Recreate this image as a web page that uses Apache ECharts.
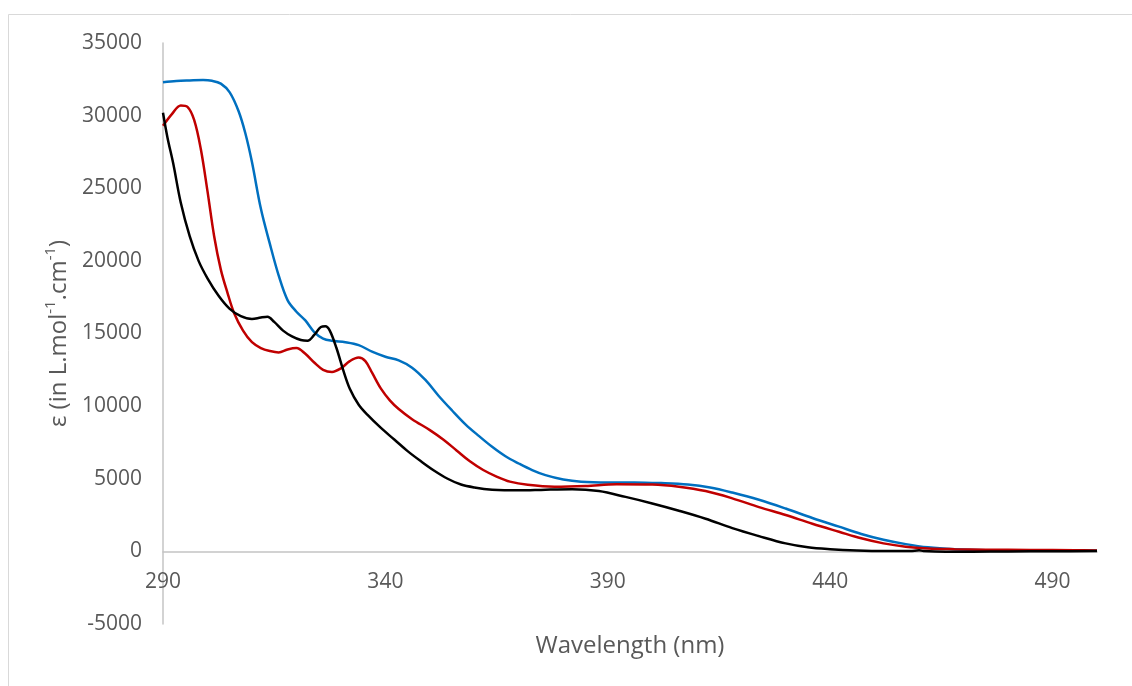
<!DOCTYPE html>
<html>
<head>
<meta charset="utf-8">
<script src="https://cdn.jsdelivr.net/npm/echarts@6/dist/echarts.min.js"></script>
<style>
  html, body { margin: 0; padding: 0; background: #ffffff; }
  #chart { width: 1132px; height: 686px; }
</style>
</head>
<body>
<div id="chart"></div>
<script>
// Absorption spectra: wavelength (nm) vs molar absorptivity ε
const blueNm = [290, 293, 296, 299, 301, 303, 305, 307, 308.5, 310, 312, 314, 316, 318, 320, 322, 324, 326, 328, 331, 334, 337, 340, 343, 346, 349, 352, 355, 358, 361, 364, 367, 370, 373, 376, 380, 384, 390, 396, 402, 408, 413, 418, 424, 430, 436, 442, 447, 452, 457, 462, 468, 475, 485, 495, 500];
const blueEps = [32300, 32380, 32420, 32450, 32400, 32200, 31600, 30300, 28800, 26800, 23600, 21200, 19000, 17300, 16500, 15900, 15100, 14650, 14500, 14400, 14200, 13750, 13400, 13150, 12650, 11800, 10700, 9700, 8750, 7950, 7200, 6550, 6050, 5600, 5250, 4950, 4800, 4750, 4750, 4700, 4600, 4400, 4050, 3550, 2950, 2300, 1700, 1200, 800, 500, 280, 150, 80, 50, 40, 50];

const redNm = [290, 292, 294, 295.5, 297, 298.5, 300, 301.5, 303, 304.5, 306, 308, 310, 312, 314, 316, 318, 320, 322, 324, 326, 328, 330, 332, 334, 335.5, 337, 339, 341, 343, 346, 350, 353, 356, 359, 362, 365, 368, 372, 378, 385, 392, 400, 406, 412, 418, 424, 430, 436, 442, 447, 452, 457, 462, 468, 475, 485, 495, 500];
const redEps = [29300, 30100, 30700, 30600, 29700, 27700, 24800, 21700, 19400, 17800, 16400, 15200, 14400, 14000, 13800, 13700, 13900, 14000, 13600, 13000, 12500, 12350, 12600, 13100, 13350, 13100, 12300, 11200, 10400, 9800, 9100, 8350, 7700, 6950, 6200, 5600, 5150, 4800, 4580, 4450, 4500, 4620, 4600, 4450, 4150, 3650, 3050, 2500, 1900, 1350, 900, 550, 320, 200, 150, 120, 100, 80, 60];

const blackNm = [290, 291, 292.3, 294, 296, 298, 300, 302.5, 305, 307.5, 310, 312, 313.5, 315, 317, 319, 321, 322.5, 324, 325.5, 326.5, 327.5, 329, 330.5, 332, 334, 336, 339, 342, 345, 348, 351, 354, 357, 360, 364, 370, 376, 382, 388, 394, 400, 406, 412, 418, 424, 430, 435, 440, 446, 452, 458, 460, 461, 466, 472, 480, 490, 500];
const blackEps = [30200, 28500, 26700, 24000, 21700, 20000, 18800, 17600, 16700, 16200, 16000, 16100, 16150, 15800, 15200, 14800, 14550, 14500, 14900, 15450, 15500, 15200, 14000, 12500, 11200, 10100, 9400, 8500, 7700, 6900, 6200, 5550, 5000, 4600, 4400, 4250, 4200, 4250, 4280, 4150, 3750, 3300, 2800, 2250, 1600, 1050, 550, 280, 150, 60, 20, 20, 80, 20, -30, -20, 0, 10, 20];

const xTickLabels = [290, 340, 390, 440, 490];
const yTickLabels = [-5000, 0, 5000, 10000, 15000, 20000, 25000, 30000, 35000];

const pairs = (xs, ys) => xs.map((x, i) => [x, ys[i]]);

const FONT = '"Open Sans", "DejaVu Sans", sans-serif';
const GREY = '#595959';

const chart = echarts.init(document.getElementById('chart'), null, { renderer: 'canvas' });

const lineSeries = (name, xs, ys, color) => ({
  name: name,
  type: 'line',
  data: pairs(xs, ys),
  smooth: 0.35,
  showSymbol: false,
  silent: true,
  lineStyle: { color: color, width: 2.5 },
  z: 3
});

chart.setOption({
  animation: false,
  backgroundColor: '#ffffff',
  graphic: [{
    type: 'rect',
    shape: { x: 8.5, y: 14.5, width: 1200, height: 700 },
    style: { fill: 'none', stroke: '#d9d9d9', lineWidth: 1 },
    silent: true,
    z: -1
  }],
  grid: { left: 163, right: 35, top: 43, bottom: 62, containLabel: false, outerBoundsMode: 'none' },
  xAxis: {
    type: 'value',
    min: 290,
    max: 500,
    interval: 10,
    name: 'Wavelength (nm)',
    nameLocation: 'middle',
    nameGap: 10,
    nameTextStyle: { color: GREY, fontSize: 24, fontFamily: FONT },
    axisLine: { show: true, onZero: true, lineStyle: { color: '#c4c4c4', width: 1.5 } },
    axisTick: { show: false },
    splitLine: { show: false },
    axisLabel: {
      color: GREY,
      fontSize: 21,
      fontFamily: FONT,
      margin: -52,
      showMinLabel: true,
      showMaxLabel: true,
      formatter: v => (xTickLabels.indexOf(Math.round(v)) >= 0 ? String(Math.round(v)) : '')
    }
  },
  yAxis: {
    type: 'value',
    min: -5000,
    max: 35000,
    interval: 5000,
    name: '{a|ε (in L.mol}{s|-1}{a|.cm}{s|-1}{a|)}',
    nameLocation: 'middle',
    nameRotate: 90,
    nameGap: 90,
    nameTextStyle: {
      color: GREY,
      fontFamily: FONT,
      rich: {
        a: { color: GREY, fontSize: 24, fontFamily: FONT, lineHeight: 30, verticalAlign: 'bottom' },
        s: { color: GREY, fontSize: 15, fontFamily: FONT, lineHeight: 30, verticalAlign: 'top', padding: [2, 0, 0, 0] }
      }
    },
    axisLine: { show: true, onZero: false, lineStyle: { color: '#c4c4c4', width: 1.5 } },
    axisTick: { show: false },
    splitLine: { show: false },
    axisLabel: {
      color: GREY,
      fontSize: 21,
      fontFamily: FONT,
      margin: 21,
      formatter: v => (yTickLabels.indexOf(v) >= 0 ? String(v) : '')
    }
  },
  series: [
    lineSeries('Blue', blueNm, blueEps, '#0070c0'),
    lineSeries('Red', redNm, redEps, '#c00000'),
    lineSeries('Black', blackNm, blackEps, '#000000')
  ]
});
</script>
</body>
</html>
